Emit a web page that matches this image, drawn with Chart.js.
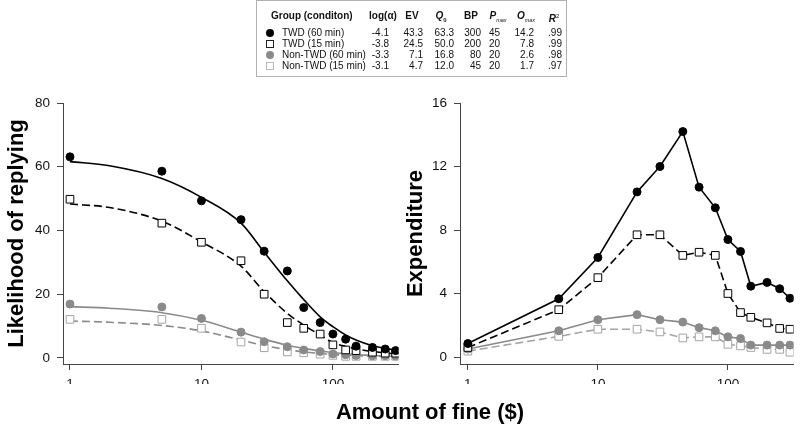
<!DOCTYPE html>
<html>
<head>
<meta charset="utf-8">
<script src="https://cdn.jsdelivr.net/npm/chart.js@4.4.1/dist/chart.umd.min.js"></script>
<style>
    body { margin: 0; background: #fff; font-family: "Liberation Sans", Arial, sans-serif; }
    #wrap { position: relative; width: 800px; height: 425px; overflow: hidden; }
    #demandChart { position: absolute; left: 0; top: 0; }
    #expendChart { position: absolute; left: 400px; top: 0; }
    #legendBox { position: absolute; left: 256px; top: 0; width: 311px; height: 77px;
        border: 1px solid #b0b0b0; box-sizing: border-box; background: #fff; }
    .cell { position: absolute; font-size: 10px; line-height: 10px; white-space: nowrap; color: #111; }
    .hd { font-weight: bold; }
    .num { text-align: right; }
    .mk { position: absolute; width: 8px; height: 8px; box-sizing: border-box; }
    #xTitle { position: absolute; left: 230px; width: 400px; top: 401px; text-align: center;
        font-size: 22px; line-height: 22px; font-weight: bold; color: #000; }
</style>
</head>
<body>
<div id="wrap">
    <canvas id="demandChart" width="405" height="425"></canvas>
    <canvas id="expendChart" width="400" height="425"></canvas>
    <div id="legendBox"></div>
    <div id="xTitle">Amount of fine ($)</div>
</div>
<script>
// fine amounts ($) used for observed points
const fines = [1, 5, 10, 20, 30, 45, 60, 80, 100, 125, 150, 200, 250, 300];

// observed likelihood of replying
const replyTwd60 = [63.1, 58.6, 49.3, 43.4, 33.5, 27.3, 15.8, 11.1, 7.5, 5.9, 3.7, 3.3, 2.8, 2.3];
const replyTwd15 = [49.8, 42.3, 36.3, 30.5, 20.0, 11.1, 9.3, 7.5, 4.1, 2.5, 2.3, 1.8, 1.5, 1.5];
const replyNon60 = [16.9, 16.0, 12.4, 8.1, 5.1, 3.5, 2.5, 2.0, 1.25, 1.0, 0.8, 0.7, 0.7, 0.6];
const replyNon15 = [12.1, 12.1, 9.3, 5.0, 3.2, 1.9, 1.6, 1.2, 0.8, 0.5, 0.5, 0.5, 0.5, 0.5];

// fitted demand curves
const curveFines = [1, 2, 5, 10, 20, 30, 45, 60, 80, 100, 125, 150, 200, 250, 300];
const fitTwd60 = [61.6, 60.3, 56.3, 50.4, 42.3, 33.2, 24.2, 18.3, 12.9, 9.8, 7.2, 5.6, 3.8, 3.0, 2.5];
const fitTwd15 = [48.3, 47.2, 42.9, 36.4, 28.8, 20.8, 14.0, 10.3, 7.2, 4.8, 3.6, 2.9, 2.0, 1.6, 1.3];
const fitNon60 = [16.1, 15.6, 14.2, 11.8, 8.1, 5.9, 4.0, 3.0, 2.2, 1.7, 1.3, 1.0, 0.8, 0.6, 0.5];
const fitNon15 = [11.6, 11.2, 10.2, 8.5, 5.6, 3.9, 2.6, 1.9, 1.4, 1.1, 0.85, 0.7, 0.5, 0.4, 0.35];

// expenditure
const expTwd60 = [0.85, 3.67, 6.27, 10.4, 12.0, 14.2, 10.7, 9.4, 7.4, 6.65, 4.46, 4.7, 4.3, 3.7];
const expTwd15 = [0.6, 2.98, 5.0, 7.7, 7.7, 6.4, 6.6, 6.4, 4.0, 2.8, 2.5, 2.15, 1.8, 1.75];
const expNon60 = [0.5, 1.65, 2.35, 2.67, 2.35, 2.2, 1.85, 1.65, 1.27, 1.17, 0.75, 0.75, 0.75, 0.75];
const expNon15 = [0.37, 1.3, 1.75, 1.75, 1.58, 1.2, 1.27, 1.27, 0.8, 0.7, 0.6, 0.48, 0.48, 0.3];

const xTicks = [1, 10, 100];
const replyTicks = [0, 20, 40, 60, 80];
const expendTicks = [0, 4, 8, 12, 16];

// legend table
const groupNames = ['TWD (60 min)', 'TWD (15 min)', 'Non-TWD (60 min)', 'Non-TWD (15 min)'];
const logAlpha = ['-4.1', '-3.8', '-3.3', '-3.1'];
const evValues = ['43.3', '24.5', '7.1', '4.7'];
const q0Values = ['63.3', '50.0', '16.8', '12.0'];
const bpValues = ['300', '200', '80', '45'];
const pmaxValues = ['45', '20', '20', '20'];
const omaxValues = ['14.2', '7.8', '2.6', '1.7'];
const r2Values = ['.99', '.99', '.98', '.97'];

const BLACK = '#000000';
const GRAY = '#8a8a8a';
const LIGHT = '#a4a4a4';
const AXIS = '#444444';

function toPoints(xs, ys) {
    return xs.map((x, i) => ({ x: x, y: ys[i] }));
}

function pointSet(ys, style, color, fill) {
    return {
        data: toPoints(fines, ys),
        showLine: false,
        pointStyle: style,
        pointRadius: style === 'circle' ? 4 : 5.4,
        pointBorderWidth: 1,
        pointBorderColor: color,
        pointBackgroundColor: fill
    };
}

function curveSet(ys, color, dashed) {
    return {
        data: toPoints(curveFines, ys),
        borderColor: color,
        borderWidth: 1.6,
        borderDash: dashed ? [8, 4] : [],
        pointRadius: 0,
        cubicInterpolationMode: 'monotone',
        fill: false
    };
}

function lineSet(ys, style, color, fill, dashed) {
    const set = pointSet(ys, style, color, fill);
    set.showLine = true;
    set.borderColor = color;
    set.borderWidth = 1.6;
    set.borderDash = dashed ? [8, 4] : [];
    set.tension = 0;
    return set;
}

function makeOptions(cfg) {
    return {
        responsive: false,
        animation: false,
        layout: { padding: { top: 103, bottom: 41, left: 0, right: cfg.rightPad } },
        plugins: { legend: { display: false }, tooltip: { enabled: false } },
        scales: {
            x: {
                type: 'logarithmic',
                min: cfg.xMin,
                max: cfg.xMax,
                afterBuildTicks: scale => { scale.ticks = xTicks.map(v => ({ value: v })); },
                afterFit: scale => { scale.height = 20; },
                grid: { display: true, drawOnChartArea: false, drawTicks: true, tickLength: 6, color: AXIS },
                border: { display: true, color: AXIS, width: 1 },
                ticks: {
                    padding: 6,
                    color: '#111',
                    font: { family: 'Liberation Sans', size: 13.5 },
                    maxRotation: 0,
                    autoSkip: false,
                    callback: v => String(v)
                }
            },
            y: {
                min: cfg.yMin,
                max: cfg.yMax,
                afterBuildTicks: scale => { scale.ticks = cfg.yTicks.map(v => ({ value: v })); },
                afterFit: scale => { scale.width = cfg.yWidth; },
                grid: { display: true, drawOnChartArea: false, drawTicks: true, tickLength: 6, color: AXIS },
                border: { display: true, color: AXIS, width: 1 },
                ticks: {
                    padding: 7,
                    color: '#111',
                    font: { family: 'Liberation Sans', size: 13.5 },
                    callback: v => String(v)
                },
                title: {
                    display: true,
                    text: cfg.yTitle,
                    color: '#000',
                    padding: { top: cfg.titlePad, bottom: 0 },
                    font: { family: 'Liberation Sans', size: 22, weight: 'bold' }
                }
            }
        }
    };
}

new Chart(document.getElementById('demandChart'), {
    type: 'scatter',
    data: {
        datasets: [
            pointSet(replyTwd60, 'circle', BLACK, BLACK),
            pointSet(replyTwd15, 'rect', BLACK, '#ffffff'),
            curveSet(fitTwd60, BLACK, false),
            curveSet(fitTwd15, BLACK, true),
            pointSet(replyNon60, 'circle', GRAY, GRAY),
            pointSet(replyNon15, 'rect', LIGHT, '#ffffff'),
            curveSet(fitNon60, GRAY, false),
            curveSet(fitNon15, GRAY, true)
        ].map((d, i) => Object.assign(d, { type: d.showLine === false ? 'scatter' : 'line', order: i }))
    },
    options: makeOptions({
        xMin: 0.885, xMax: 316, yMin: -1.9, yMax: 80, yTicks: replyTicks,
        yWidth: 63, rightPad: 4, yTitle: 'Likelihood of replying', titlePad: 4
    })
});

new Chart(document.getElementById('expendChart'), {
    type: 'scatter',
    data: {
        datasets: [
            lineSet(expTwd60, 'circle', BLACK, BLACK, false),
            lineSet(expTwd15, 'rect', BLACK, '#ffffff', true),
            lineSet(expNon60, 'circle', GRAY, GRAY, false),
            lineSet(expNon15, 'rect', LIGHT, '#ffffff', true)
        ].map((d, i) => Object.assign(d, { type: 'line', order: i }))
    },
    options: makeOptions({
        xMin: 0.87, xMax: 320, yMin: -0.44, yMax: 16, yTicks: expendTicks,
        yWidth: 60, rightPad: 0, yTitle: 'Expenditure', titlePad: 3
    })
});

// legend table as real text
function buildLegend() {
    const box = document.getElementById('legendBox');
    const left = 256;
    const rowY = [15, 32, 43, 54, 65];
    const cols = [
        { right: 388, head: 'log(&alpha;)', headCenter: 382, vals: logAlpha },
        { right: 422, head: 'EV', headCenter: 411, vals: evValues },
        { right: 453, head: '<i>Q</i><sub style="font-size:6px">0</sub>', headCenter: 440, vals: q0Values },
        { right: 480, head: 'BP', headCenter: 470, vals: bpValues },
        { right: 499, head: '<i>P</i><sub style="font-size:5.5px;font-weight:normal"><i>max</i></sub>', headCenter: 497, vals: pmaxValues },
        { right: 533, head: '<i>O</i><sub style="font-size:5.5px;font-weight:normal"><i>max</i></sub>', headCenter: 525, vals: omaxValues },
        { right: 561, head: '<i>R</i><sup style="font-size:6px;font-weight:normal">2</sup>', headCenter: 553, vals: r2Values }
    ];
    let html = '';
    html += `<div class="cell hd" style="left:${270 - left}px;top:${rowY[0] - 5}px">Group (conditon)</div>`;
    cols.forEach(c => {
        html += `<div class="cell hd" style="left:${c.headCenter - 30 - left}px;width:60px;text-align:center;top:${rowY[0] - 5}px">${c.head}</div>`;
    });
    const markers = [
        'background:#000;border-radius:50%;',
        'background:#fff;border:1px solid #222;',
        'background:#8a8a8a;border-radius:50%;',
        'background:#fff;border:1px solid #bbb;'
    ];
    groupNames.forEach((name, r) => {
        const y = rowY[r + 1];
        html += `<div class="mk" style="left:${265 - left}px;top:${y - 4.5}px;${markers[r]}"></div>`;
        html += `<div class="cell" style="left:${281 - left}px;top:${y - 5}px">${name}</div>`;
        cols.forEach(c => {
            html += `<div class="cell num" style="left:${c.right - 40 - left}px;width:40px;top:${y - 5}px">${c.vals[r]}</div>`;
        });
    });
    box.innerHTML = html;
}
buildLegend();
</script>
</body>
</html>
